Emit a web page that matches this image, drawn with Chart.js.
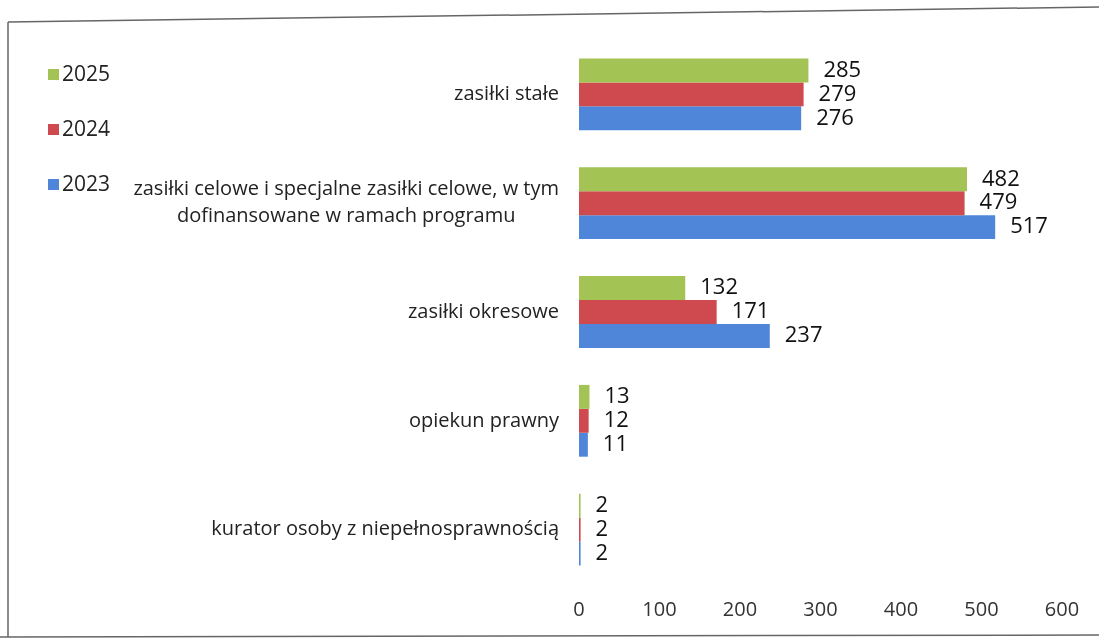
<!DOCTYPE html>
<html>
<head>
<meta charset="utf-8">
<script src="https://cdn.jsdelivr.net/npm/chart.js@4.4.1/dist/chart.umd.min.js"></script>
<style>
  html, body { margin:0; padding:0; background:#fff; }
  #wrap { position:relative; width:1099px; height:643px; overflow:hidden; background:#fff; }
  #frame { position:absolute; left:0; top:0; }
  canvas#c { position:absolute; left:0; top:0; }
  .leg { position:absolute; left:48px; font-family:"Open Sans", Lato, sans-serif; font-size:21px; color:#222; line-height:24px; }
  .leg span.sw { display:inline-block; width:11px; height:11px; margin-right:3px; vertical-align:1px; }
</style>
</head>
<body>
<div id="wrap">
  <svg id="frame" width="1099" height="643">
    <line x1="8" y1="22" x2="1099" y2="7" stroke="#666" stroke-width="1.5"/>
    <line x1="8" y1="22" x2="8" y2="637" stroke="#666" stroke-width="1.5"/>
    <line x1="0" y1="637" x2="1099" y2="635" stroke="#666" stroke-width="1.5"/>
  </svg>
  <canvas id="c" width="1099" height="643"></canvas>
  <div class="leg" style="top:61px"><span class="sw" style="background:#A3C354"></span>2025</div>
  <div class="leg" style="top:116px"><span class="sw" style="background:#CF4A4E"></span>2024</div>
  <div class="leg" style="top:171px"><span class="sw" style="background:#4F86DA"></span>2023</div>
</div>
<script>
const categories = [
  ["zasiłki stałe"],
  ["zasiłki celowe i specjalne zasiłki celowe, w tym", "dofinansowane w ramach programu"],
  ["zasiłki okresowe"],
  ["opiekun prawny"],
  ["kurator osoby z niepełnosprawnością"]
];
const values2025 = [285, 482, 132, 13, 2];
const values2024 = [279, 479, 171, 12, 2];
const values2023 = [276, 517, 237, 11, 2];
const seriesNames = ["2025", "2024", "2023"];
const xTicks = [0, 100, 200, 300, 400, 500, 600];

const FONT = '"Open Sans", Lato, sans-serif';

const valueLabels = {
  id: 'valueLabels',
  afterDatasetsDraw(chart) {
    const ctx = chart.ctx;
    ctx.save();
    ctx.font = '22px ' + FONT;
    ctx.fillStyle = '#111';
    ctx.textAlign = 'left';
    ctx.textBaseline = 'middle';
    chart.data.datasets.forEach((ds, i) => {
      chart.getDatasetMeta(i).data.forEach((bar, j) => {
        ctx.fillText(String(ds.data[j]), bar.x + 15, bar.y);
      });
    });
    ctx.restore();
  }
};

const catLabels = {
  id: 'catLabels',
  afterDraw(chart) {
    const ctx = chart.ctx;
    const y = chart.scales.y;
    ctx.save();
    ctx.font = '20px ' + FONT;
    ctx.fillStyle = '#222';
    ctx.textBaseline = 'middle';
    const right = 559;
    const lh = 27;
    categories.forEach((lines, i) => {
      const cy = y.getPixelForValue(i);
      const maxW = Math.max(...lines.map(l => ctx.measureText(l).width));
      const y0 = cy - (lines.length - 1) * lh / 2;
      lines.forEach((l, k) => {
        if (lines.length > 1) {
          ctx.textAlign = 'center';
          ctx.fillText(l, right - maxW / 2, y0 + k * lh);
        } else {
          ctx.textAlign = 'right';
          ctx.fillText(l, right, y0);
        }
      });
    });
    ctx.restore();
  }
};

new Chart(document.getElementById('c'), {
  type: 'bar',
  data: {
    labels: categories.map(c => c.join(' ')),
    datasets: [
      { label: seriesNames[0], data: values2025, backgroundColor: '#A3C354' },
      { label: seriesNames[1], data: values2024, backgroundColor: '#CF4A4E' },
      { label: seriesNames[2], data: values2023, backgroundColor: '#4F86DA' }
    ]
  },
  options: {
    indexAxis: 'y',
    responsive: false,
    animation: false,
    devicePixelRatio: 1,
    layout: { padding: { left: 579, right: 37, top: 40, bottom: 7 } },
    datasets: { bar: { categoryPercentage: 0.66, barPercentage: 1.0, borderWidth: 0 } },
    plugins: { legend: { display: false }, tooltip: { enabled: false } },
    scales: {
      x: {
        min: 0, max: 600,
        afterBuildTicks(axis) { axis.ticks = xTicks.map(v => ({ value: v })); },
        grid: { display: false, drawTicks: false },
        border: { display: false },
        ticks: { font: { family: FONT, size: 20 }, color: '#333', padding: 14 }
      },
      y: {
        grid: { display: false, drawTicks: false },
        border: { display: false },
        ticks: { display: false }
      }
    }
  },
  plugins: [valueLabels, catLabels]
});
</script>
</body>
</html>
